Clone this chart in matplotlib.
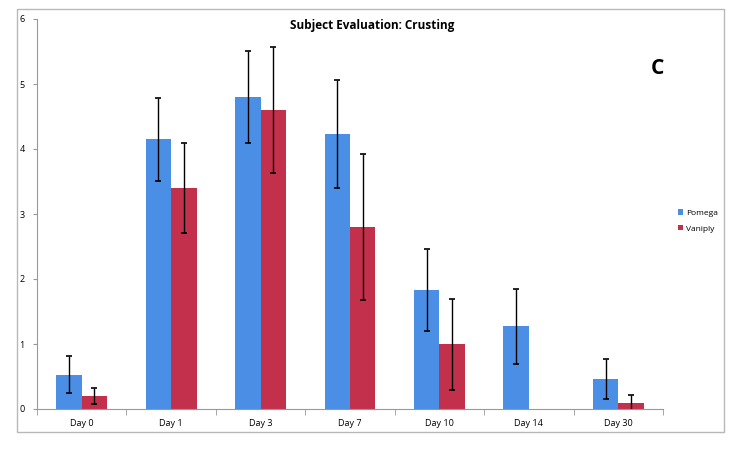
import numpy as np
from matplotlib import pyplot as plt
from matplotlib.patches import Rectangle

days = ["Day 0", "Day 1", "Day 3", "Day 7", "Day 10", "Day 14", "Day 30"]
pomega = [0.53, 4.15, 4.80, 4.23, 1.83, 1.27, 0.46]
pomega_err = [0.29, 0.64, 0.71, 0.83, 0.63, 0.57, 0.31]
vaniply = [0.20, 3.40, 4.60, 2.80, 1.00, np.nan, 0.10]
vaniply_err = [0.13, 0.69, 0.97, 1.12, 0.70, np.nan, 0.11]


def main():
    plt.rcParams['font.family'] = ['Open Sans', 'DejaVu Sans']
    fig = plt.figure(figsize=(7.29, 4.49), dpi=100)
    fig.patches.append(Rectangle((17 / 729, 17 / 449), 707 / 729, 423 / 449,
                                 transform=fig.transFigure, fill=False,
                                 edgecolor='#b8b8b8', linewidth=1.0))
    ax = fig.add_axes([37 / 729, 40 / 449, 626 / 729, 390 / 449])

    x = np.arange(len(days))
    w = 0.285
    err_kw = dict(ecolor='black', elinewidth=1.0, capsize=2.5, capthick=1.2)
    ax.bar(x - w / 2, pomega, w, yerr=pomega_err, color='#4A8EE6',
           label='Pomega', error_kw=err_kw, zorder=2)
    ax.bar(x + w / 2, vaniply, w, yerr=vaniply_err, color='#C3304B',
           label='Vaniply', error_kw=err_kw, zorder=2)

    ax.set_xlim(-0.5, len(days) - 0.5)
    ax.set_ylim(0, 6)
    ax.set_yticks(range(7))
    ax.set_xticks(x)
    ax.set_xticklabels(days, fontsize=6.5)
    ax.set_xticks(np.arange(-0.5, len(days)), minor=True)
    ax.tick_params(axis='x', which='major', length=0, pad=7)
    ax.tick_params(axis='x', which='minor', length=4, color='#999999', direction='out')
    ax.tick_params(axis='y', labelsize=6.5, length=3, color='#999999', pad=6)
    for s in ['top', 'right']:
        ax.spines[s].set_visible(False)
    for s in ['left', 'bottom']:
        ax.spines[s].set_color('#999999')

    fig.text(372 / 729, 1 - 25 / 449, 'Subject Evaluation: Crusting',
             ha='center', va='center', fontsize=8.5, fontweight='bold')
    fig.text(657 / 729, 1 - 68 / 449, 'C', ha='center', va='center',
             fontsize=15, fontweight='bold')

    fig.legend(loc='center left', bbox_to_anchor=(670 / 729, 1 - 221 / 449),
               frameon=False, fontsize=6, handlelength=0.6, handleheight=0.6,
               handletextpad=0.4, labelspacing=1.0)

    fig.savefig('out.png', dpi=100)


if __name__ == "__main__":
    main()
